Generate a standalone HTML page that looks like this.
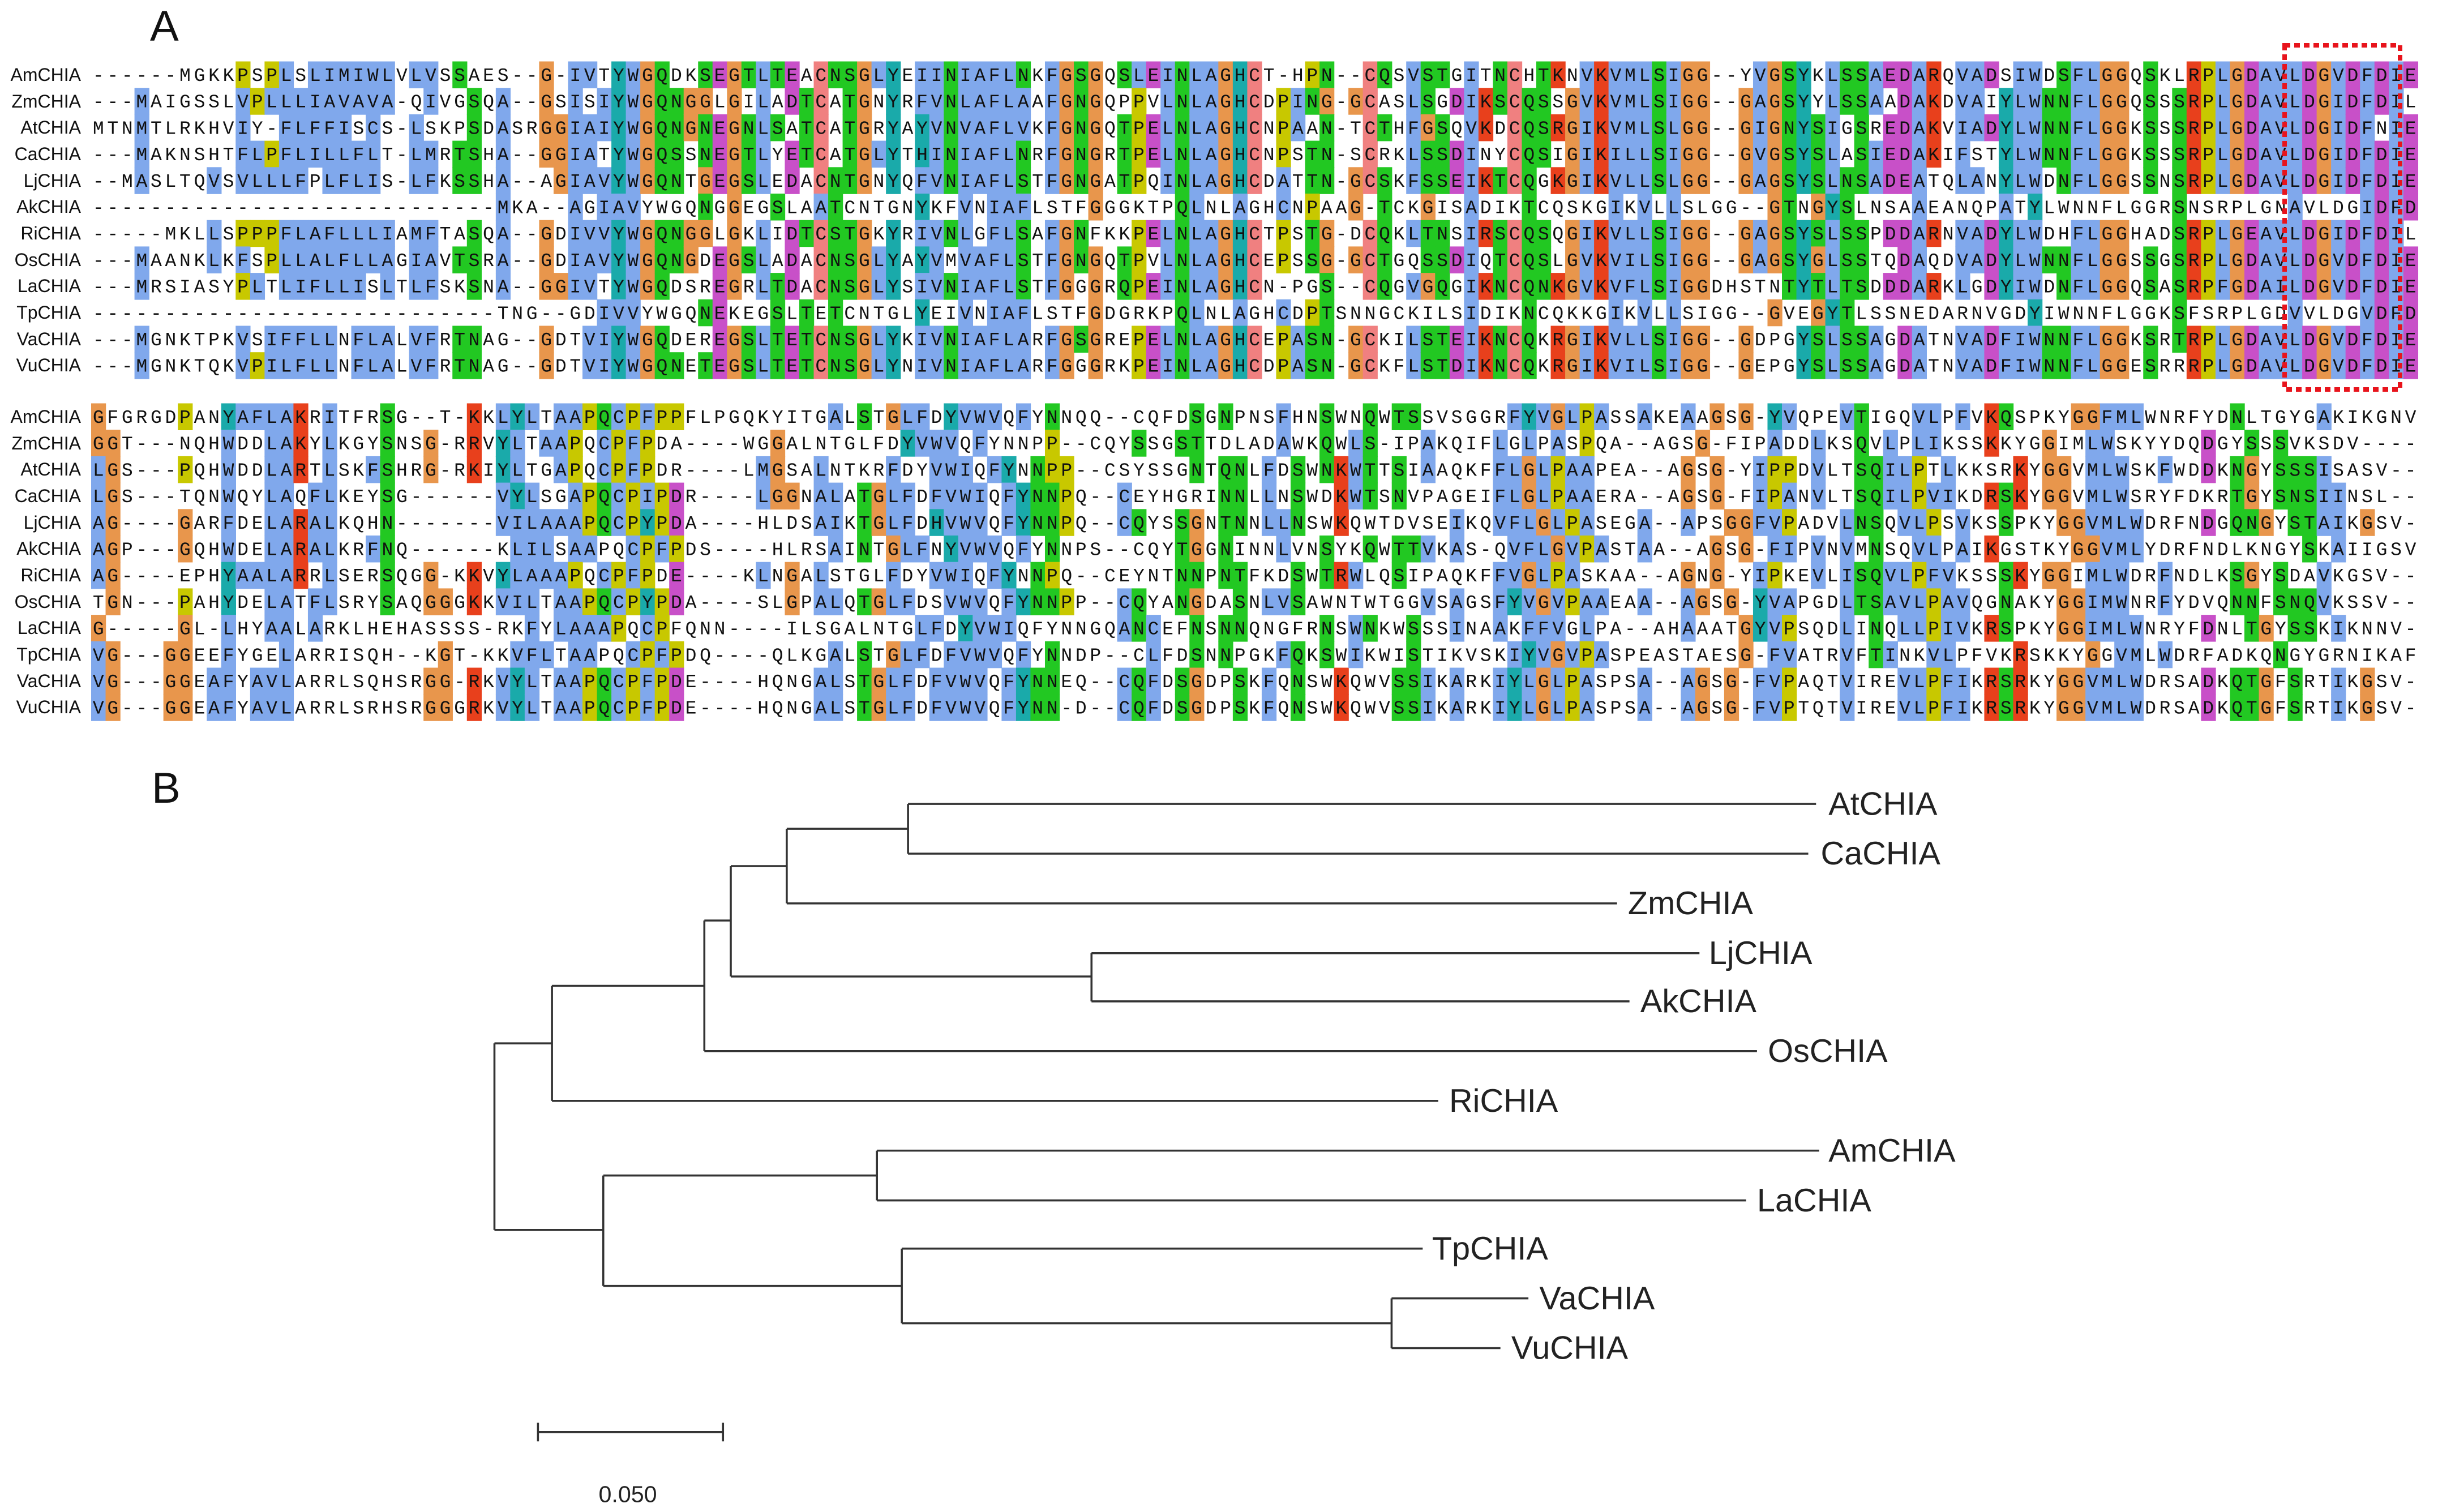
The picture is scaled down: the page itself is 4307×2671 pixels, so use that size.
<!DOCTYPE html>
<html><head><meta charset="utf-8">
<style>
html,body{margin:0;padding:0;background:#fff;}
svg{display:block;}
.lab{font-family:"Liberation Sans",sans-serif;font-size:32px;fill:#111;text-anchor:end;}
.seq{font-family:"Liberation Mono",monospace;font-size:33px;fill:#111;}
.tl{font-family:"Liberation Sans",sans-serif;font-size:21px;fill:#222;}
</style></head>
<body>
<svg id="s" width="4307" height="2671" viewBox="0 0 4307 2671" xmlns="http://www.w3.org/2000/svg">
<rect width="4307" height="2671" fill="#fff"/>
<text x="265" y="72" font-family="Liberation Sans, sans-serif" font-size="76" fill="#111">A</text>
<text x="268" y="1418" font-family="Liberation Sans, sans-serif" font-size="76" fill="#111">B</text>
<g id="rects"></g>
<g id="b1">
<text class="lab" x="143" y="143">AmCHIA</text>
<text class="lab" x="143" y="190">ZmCHIA</text>
<text class="lab" x="143" y="236">AtCHIA</text>
<text class="lab" x="143" y="283">CaCHIA</text>
<text class="lab" x="143" y="330">LjCHIA</text>
<text class="lab" x="143" y="376">AkCHIA</text>
<text class="lab" x="143" y="423">RiCHIA</text>
<text class="lab" x="143" y="470">OsCHIA</text>
<text class="lab" x="143" y="516">LaCHIA</text>
<text class="lab" x="143" y="563">TpCHIA</text>
<text class="lab" x="143" y="610">VaCHIA</text>
<text class="lab" x="143" y="656">VuCHIA</text>
</g>
<g id="b2">
<text class="lab" x="143" y="747">AmCHIA</text>
<text class="lab" x="143" y="794">ZmCHIA</text>
<text class="lab" x="143" y="840">AtCHIA</text>
<text class="lab" x="143" y="887">CaCHIA</text>
<text class="lab" x="143" y="934">LjCHIA</text>
<text class="lab" x="143" y="980">AkCHIA</text>
<text class="lab" x="143" y="1027">RiCHIA</text>
<text class="lab" x="143" y="1074">OsCHIA</text>
<text class="lab" x="143" y="1120">LaCHIA</text>
<text class="lab" x="143" y="1167">TpCHIA</text>
<text class="lab" x="143" y="1214">VaCHIA</text>
<text class="lab" x="143" y="1260">VuCHIA</text>
</g>
<g id="seqs">
<text class="seq s1">------MGKKPSPLSLIMIWLVLVSSAES--G-IVTYWGQDKSEGTLTEACNSGLYEIINIAFLNKFGSGQSLEINLAGHCT-HPN--CQSVSTGITNCHTKNVKVMLSIGG--YVGSYKLSSAEDARQVADSIWDSFLGGQSKLRPLGDAVLDGVDFDIE</text>
<text class="seq s1">---MAIGSSLVPLLLIAVAVA-QIVGSQA--GSISIYWGQNGGLGILADTCATGNYRFVNLAFLAAFGNGQPPVLNLAGHCDPING-GCASLSGDIKSCQSSGVKVMLSIGG--GAGSYYLSSAADAKDVAIYLWNNFLGGQSSSRPLGDAVLDGIDFDIL</text>
<text class="seq s1">MTNMTLRKHVIY-FLFFISCS-LSKPSDASRGGIAIYWGQNGNEGNLSATCATGRYAYVNVAFLVKFGNGQTPELNLAGHCNPAAN-TCTHFGSQVKDCQSRGIKVMLSLGG--GIGNYSIGSREDAKVIADYLWNNFLGGKSSSRPLGDAVLDGIDFNIE</text>
<text class="seq s1">---MAKNSHTFLPFLILLFLT-LMRTSHA--GGIATYWGQSSNEGTLYETCATGLYTHINIAFLNRFGNGRTPELNLAGHCNPSTN-SCRKLSSDINYCQSIGIKILLSIGG--GVGSYSLASIEDAKIFSTYLWNNFLGGKSSSRPLGDAVLDGIDFDIE</text>
<text class="seq s1">--MASLTQVSVLLLFPLFLIS-LFKSSHA--AGIAVYWGQNTGEGSLEDACNTGNYQFVNIAFLSTFGNGATPQINLAGHCDATTN-GCSKFSSEIKTCQGKGIKVLLSLGG--GAGSYSLNSADEATQLANYLWDNFLGGSSNSRPLGDAVLDGIDFDIE</text>
<text class="seq s1">----------------------------MKA--AGIAVYWGQNGGEGSLAATCNTGNYKFVNIAFLSTFGGGKTPQLNLAGHCNPAAG-TCKGISADIKTCQSKGIKVLLSLGG--GTNGYSLNSAAEANQPATYLWNNFLGGRSNSRPLGNAVLDGIDFDIE</text>
<text class="seq s1">-----MKLLSPPPFLAFLLLIAMFTASQA--GDIVVYWGQNGGLGKLIDTCSTGKYRIVNLGFLSAFGNFKKPELNLAGHCTPSTG-DCQKLTNSIRSCQSQGIKVLLSIGG--GAGSYSLSSPDDARNVADYLWDHFLGGHADSRPLGEAVLDGIDFDIL</text>
<text class="seq s1">---MAANKLKFSPLLALFLLAGIAVTSRA--GDIAVYWGQNGDEGSLADACNSGLYAYVMVAFLSTFGNGQTPVLNLAGHCEPSSG-GCTGQSSDIQTCQSLGVKVILSIGG--GAGSYGLSSTQDAQDVADYLWNNFLGGSSGSRPLGDAVLDGVDFDIE</text>
<text class="seq s1">---MRSIASYPLTLIFLLISLTLFSKSNA--GGIVTYWGQDSREGRLTDACNSGLYSIVNIAFLSTFGGGRQPEINLAGHCN-PGS--CQGVGQGIKNCQNKGVKVFLSIGGDHSTNTYTLTSDDDARKLGDYIWDNFLGGQSASRPFGDAILDGVDFDIE</text>
<text class="seq s1">----------------------------TNG--GDIVVYWGQNEKEGSLTETCNTGLYEIVNIAFLSTFGDGRKPQLNLAGHCDPTSNNGCKILSIDIKNCQKKGIKVLLSIGG--GVEGYTLSSNEDARNVGDYIWNNFLGGKSFSRPLGDVVLDGVDFDIE</text>
<text class="seq s1">---MGNKTPKVSIFFLLNFLALVFRTNAG--GDTVIYWGQDEREGSLTETCNSGLYKIVNIAFLARFGSGREPELNLAGHCEPASN-GCKILSTEIKNCQKRGIKVLLSIGG--GDPGYSLSSAGDATNVADFIWNNFLGGKSRTRPLGDAVLDGVDFDIE</text>
<text class="seq s1">---MGNKTQKVPILFLLNFLALVFRTNAG--GDTVIYWGQNETEGSLTETCNSGLYNIVNIAFLARFGGGRKPEINLAGHCDPASN-GCKFLSTDIKNCQKRGIKVILSIGG--GEPGYSLSSAGDATNVADFIWNNFLGGESRRRPLGDAVLDGVDFDIE</text>
<text class="seq s2">GFGRGDPANYAFLAKRITFRSG--T-KKLYLTAAPQCPFPPFLPGQKYITGALSTGLFDYVWVQFYNNQQ--CQFDSGNPNSFHNSWNQWTSSVSGGRFYVGLPASSAKEAAGSG-YVQPEVTIGQVLPFVKQSPKYGGFMLWNRFYDNLTGYGAKIKGNV</text>
<text class="seq s2">GGT---NQHWDDLAKYLKGYSNSG-RRVYLTAAPQCPFPDA----WGGALNTGLFDYVWVQFYNNPP--CQYSSGSTTDLADAWKQWLS-IPAKQIFLGLPASPQA--AGSG-FIPADDLKSQVLPLIKSSKKYGGIMLWSKYYDQDGYSSSVKSDV</text>
<text class="seq s2">LGS---PQHWDDLARTLSKFSHRG-RKIYLTGAPQCPFPDR----LMGSALNTKRFDYVWIQFYNNPP--CSYSSGNTQNLFDSWNKWTTSIAAQKFFLGLPAAPEA--AGSG-YIPPDVLTSQILPTLKKSRKYGGVMLWSKFWDDKNGYSSSISASV</text>
<text class="seq s2">LGS---TQNWQYLAQFLKEYSG------VYLSGAPQCPIPDR----LGGNALATGLFDFVWIQFYNNPQ--CEYHGRINNLLNSWDKWTSNVPAGEIFLGLPAAERA--AGSG-FIPANVLTSQILPVIKDRSKYGGVMLWSRYFDKRTGYSNSIINSL</text>
<text class="seq s2">AG----GARFDELARALKQHN-------VILAAAPQCPYPDA----HLDSAIKTGLFDHVWVQFYNNPQ--CQYSSGNTNNLLNSWKQWTDVSEIKQVFLGLPASEGA--APSGGFVPADVLNSQVLPSVKSSPKYGGVMLWDRFNDGQNGYSTAIKGSV</text>
<text class="seq s2">AGP---GQHWDELARALKRFNQ------KLILSAAPQCPFPDS----HLRSAINTGLFNYVWVQFYNNPS--CQYTGGNINNLVNSYKQWTTVKAS-QVFLGVPASTAA--AGSG-FIPVNVMNSQVLPAIKGSTKYGGVMLYDRFNDLKNGYSKAIIGSV</text>
<text class="seq s2">AG----EPHYAALARRLSERSQGG-KKVYLAAAPQCPFPDE----KLNGALSTGLFDYVWIQFYNNPQ--CEYNTNNPNTFKDSWTRWLQSIPAQKFFVGLPASKAA--AGNG-YIPKEVLISQVLPFVKSSSKYGGIMLWDRFNDLKSGYSDAVKGSV</text>
<text class="seq s2">TGN---PAHYDELATFLSRYSAQGGGKKVILTAAPQCPYPDA----SLGPALQTGLFDSVWVQFYNNPP--CQYANGDASNLVSAWNTWTGGVSAGSFYVGVPAAEAA--AGSG-YVAPGDLTSAVLPAVQGNAKYGGIMWNRFYDVQNNFSNQVKSSV</text>
<text class="seq s2">G-----GL-LHYAALARKLHEHASSSS-RKFYLAAAPQCPFQNN----ILSGALNTGLFDYVWIQFYNNGQANCEFNSNNQNGFRNSWNKWSSSINAAKFFVGLPA--AHAAATGYVPSQDLINQLLPIVKRSPKYGGIMLWNRYFDNLTGYSSKIKNNV</text>
<text class="seq s2">VG---GGEEFYGELARRISQH--KGT-KKVFLTAAPQCPFPDQ----QLKGALSTGLFDFVWVQFYNNDP--CLFDSNNPGKFQKSWIKWISTIKVSKIYVGVPASPEASTAESG-FVATRVFTINKVLPFVKRSKKYGGVMLWDRFADKQNGYGRNIKAFV</text>
<text class="seq s2">VG---GGEAFYAVLARRLSQHSRGG-RKVYLTAAPQCPFPDE----HQNGALSTGLFDFVWVQFYNNEQ--CQFDSGDPSKFQNSWKQWVSSIKARKIYLGLPASPSA--AGSG-FVPAQTVIREVLPFIKRSRKYGGVMLWDRSADKQTGFSRTIKGSV</text>
<text class="seq s2">VG---GGEAFYAVLARRLSRHSRGGGRKVYLTAAPQCPFPDE----HQNGALSTGLFDFVWVQFYNN-D--CQFDSGDPSKFQNSWKQWVSSIKARKIYLGLPASPSA--AGSG-FVPTQTVIREVLPFIKRSRKYGGVMLWDRSADKQTGFSRTIKGSV</text>
</g>
<rect x="4036" y="80" width="204" height="608" fill="none" stroke="#e8141c" stroke-width="8" stroke-dasharray="10,7"/>
<g transform="scale(2.74681)" stroke="#333" stroke-width="1.3" fill="none">
<path d="M584 517H1168M584 549H1163M584 517V549"/>
<path d="M506 533H584M506 581H1040M506 533V581"/>
<path d="M702 613H1093M702 644H1048M702 613V644"/>
<path d="M470 557H506M470 628H702M470 557V628"/>
<path d="M453 592H470M453 676H1130M453 592V676"/>
<path d="M355 634H453M355 708H925M355 634V708"/>
<path d="M564 740H1170M564 772H1123M564 740V772"/>
<path d="M895 835H983M895 867H965M895 835V867"/>
<path d="M580 803H915M580 851H895M580 803V851"/>
<path d="M388 756H564M388 827H580M388 756V827"/>
<path d="M318 671H355M318 791H388M318 671V791"/>
<path d="M346 921H465M346 915V927M465 915V927"/>
</g>
<g transform="scale(2.74681)">
<text class="tl" x="1176" y="524">AtCHIA</text>
<text class="tl" x="1171" y="556">CaCHIA</text>
<text class="tl" x="1047" y="588">ZmCHIA</text>
<text class="tl" x="1099" y="620">LjCHIA</text>
<text class="tl" x="1055" y="651">AkCHIA</text>
<text class="tl" x="1137" y="683">OsCHIA</text>
<text class="tl" x="932" y="715">RiCHIA</text>
<text class="tl" x="1176" y="747">AmCHIA</text>
<text class="tl" x="1130" y="779">LaCHIA</text>
<text class="tl" x="921" y="810">TpCHIA</text>
<text class="tl" x="990" y="842">VaCHIA</text>
<text class="tl" x="972" y="874">VuCHIA</text>
<text class="tl" x="385" y="966" style="font-size:15px">0.050</text>
</g>
</svg>
<script>
(function(){
var W=25.53,X0=161,N=161,SP=46.7;
var fill={h:'#80a8ec',r:'#e8401c',m:'#c850c8',g:'#22c822',o:'#e8964c',y:'#c8c800',c:'#1aaaaa',p:'#f08080'};
var HYD='AILMFWVC',HYD2='WLVIMAFCHPY';
var g=document.getElementById('rects');var ns='http://www.w3.org/2000/svg';
['s1','s2'].forEach(function(cl,bi){
 var els=document.getElementsByClassName(cl);var y0=bi?736:132;var rows=[];
 for(var i=0;i<els.length;i++){var s=els[i].textContent;while(s.length<N)s+='-';s=s.slice(0,N);rows.push(s);
  var e=els[i];e.textContent=s;e.setAttribute('x',X0+(W-19.8)/2);e.setAttribute('y',y0+i*SP+11);
  e.setAttribute('textLength',(N-1)*W+19.8);e.setAttribute('lengthAdjust','spacing');}
 var R=rows.length;
 for(var c=0;c<N;c++){
  var h2=0,nqst=0,kr=0,de=0,gg=0,pp=0,cc=0,hy=0;
  rows.forEach(function(r){var a=r[c];
   if(HYD2.indexOf(a)>=0)h2++; if('NQST'.indexOf(a)>=0)nqst++; if('KR'.indexOf(a)>=0)kr++;
   if('DE'.indexOf(a)>=0)de++; if(a=='G')gg++; if(a=='P')pp++; if(a=='C')cc++; if('HY'.indexOf(a)>=0)hy++;});
  rows.forEach(function(r,i){var a=r[c],k=null;
   if(a=='C'&&cc>=8)k='p';
   else if(HYD.indexOf(a)>=0&&h2>=R*0.5)k='h';
   else if('NQST'.indexOf(a)>=0&&nqst>=R*0.5)k='g';
   else if('HY'.indexOf(a)>=0&&(h2>=R*0.6||hy>=R*0.5))k='c';
   else if('KR'.indexOf(a)>=0&&kr>=R*0.5)k='r';
   else if('DE'.indexOf(a)>=0&&de>=R*0.5)k='m';
   else if(a=='G'&&gg>=3)k='o';
   else if(a=='P'&&pp>=3)k='y';
   if(k){var rc=document.createElementNS(ns,'rect');rc.setAttribute('x',X0+c*W);rc.setAttribute('y',y0+i*SP-23.5);
   rc.setAttribute('width',W+0.7);rc.setAttribute('height',SP+0.8);rc.setAttribute('fill',fill[k]);g.appendChild(rc);}});
 }
});
})();
</script>
</body></html>
